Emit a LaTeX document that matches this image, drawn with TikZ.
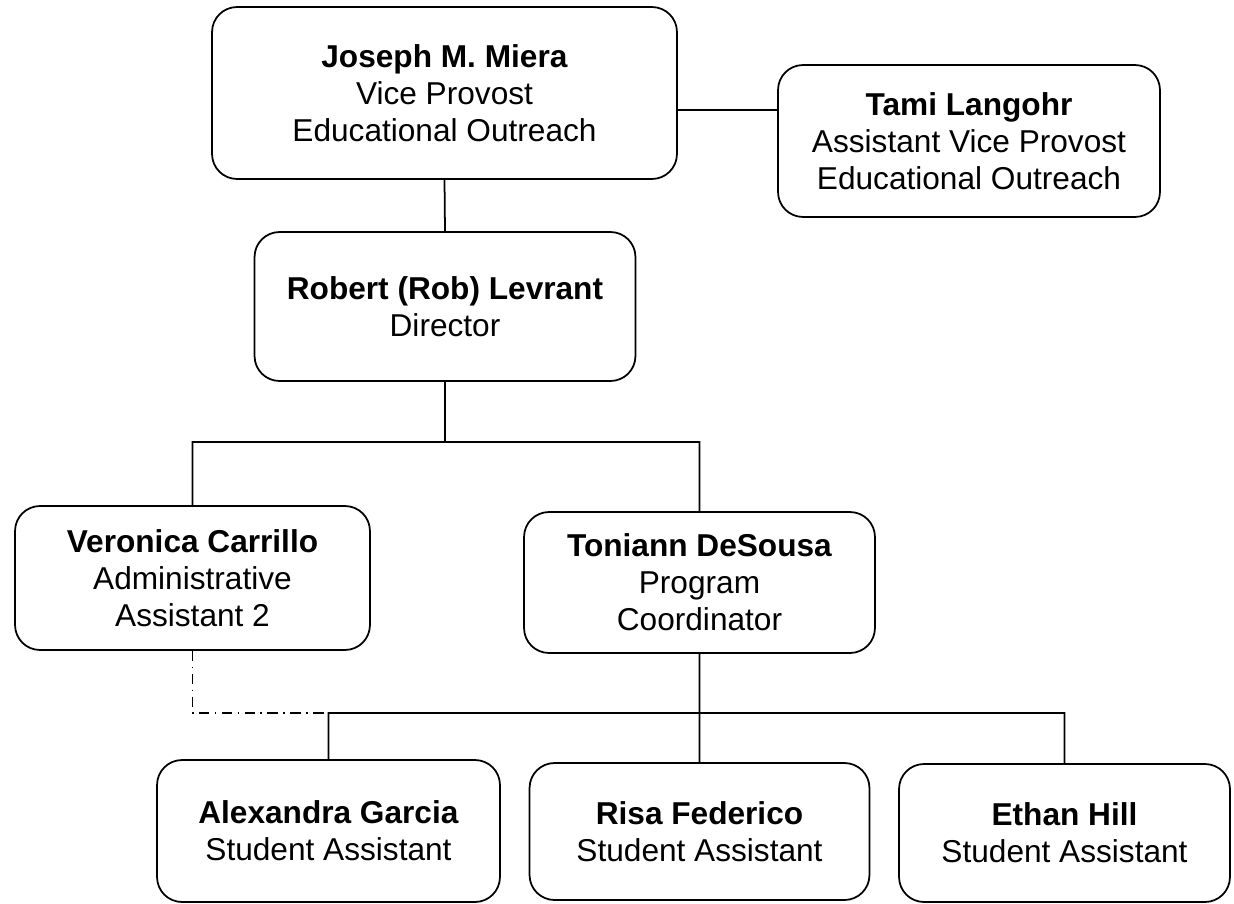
\documentclass[tikz,border=0pt]{standalone}
\usepackage{fontspec}
\setmainfont{Liberation Sans}
\usepackage{tikz}

\begin{document}
\begin{tikzpicture}[x=0.02cm, y=0.02cm, line width=1pt,
    person/.style={draw, rounded corners=0.5cm, align=center, inner sep=0pt,
                   font=\fontsize{18}{21}\selectfont}]
    \useasboundingbox (0, 0) rectangle (1234, -903);
    \node (joseph) [person, minimum width=9.3cm, minimum height=3.44cm] at (444.5, -93)
          {\textbf{Joseph M. Miera}\\Vice Provost\\Educational Outreach};
    \node (tami) [person, minimum width=7.64cm, minimum height=3.04cm] at (969, -141)
          {\textbf{Tami Langohr}\\Assistant Vice Provost\\Educational Outreach};
    \node (robert) [person, minimum width=7.62cm, minimum height=2.98cm] at (445, -306.5)
          {\textbf{Robert (Rob) Levrant}\\Director};
    \node (veronica) [person, minimum width=7.1cm, minimum height=2.88cm] at (192.5, -578)
          {\textbf{Veronica Carrillo}\\Administrative\\Assistant 2};
    \node (toniann) [person, minimum width=7.02cm, minimum height=2.82cm] at (699.5, -582.5)
          {\textbf{Toniann DeSousa}\\Program\\Coordinator};
    \node (alexandra) [person, minimum width=6.86cm, minimum height=2.84cm] at (328.5, -831)
          {\textbf{Alexandra Garcia}\\Student Assistant};
    \node (risa) [person, minimum width=6.8cm, minimum height=2.74cm] at (699.5, -831.5)
          {\textbf{Risa Federico}\\Student Assistant};
    \node (ethan) [person, minimum width=6.62cm, minimum height=2.76cm] at (1064.5, -833)
          {\textbf{Ethan Hill}\\Student Assistant};
    \coordinate (side) at (0, -110);
    \coordinate (bus1) at (0, -442);
    \coordinate (bus2) at (0, -713);
    \draw (joseph.east |- side) -- (tami.west |- side)
          (joseph.south) -- (robert.north)
          (robert.south) -- (robert.south |- bus1)
          (veronica.north) |- (toniann.north |- bus1) -- (toniann.north)
          (toniann.south) -- (risa.north)
          (alexandra.north) |- (ethan.north |- bus2) -- (ethan.north);
    \draw[dash pattern=on 6pt off 3pt on 1pt off 3pt] (veronica.south) |- (alexandra.north |- bus2);
\end{tikzpicture}
\end{document}
